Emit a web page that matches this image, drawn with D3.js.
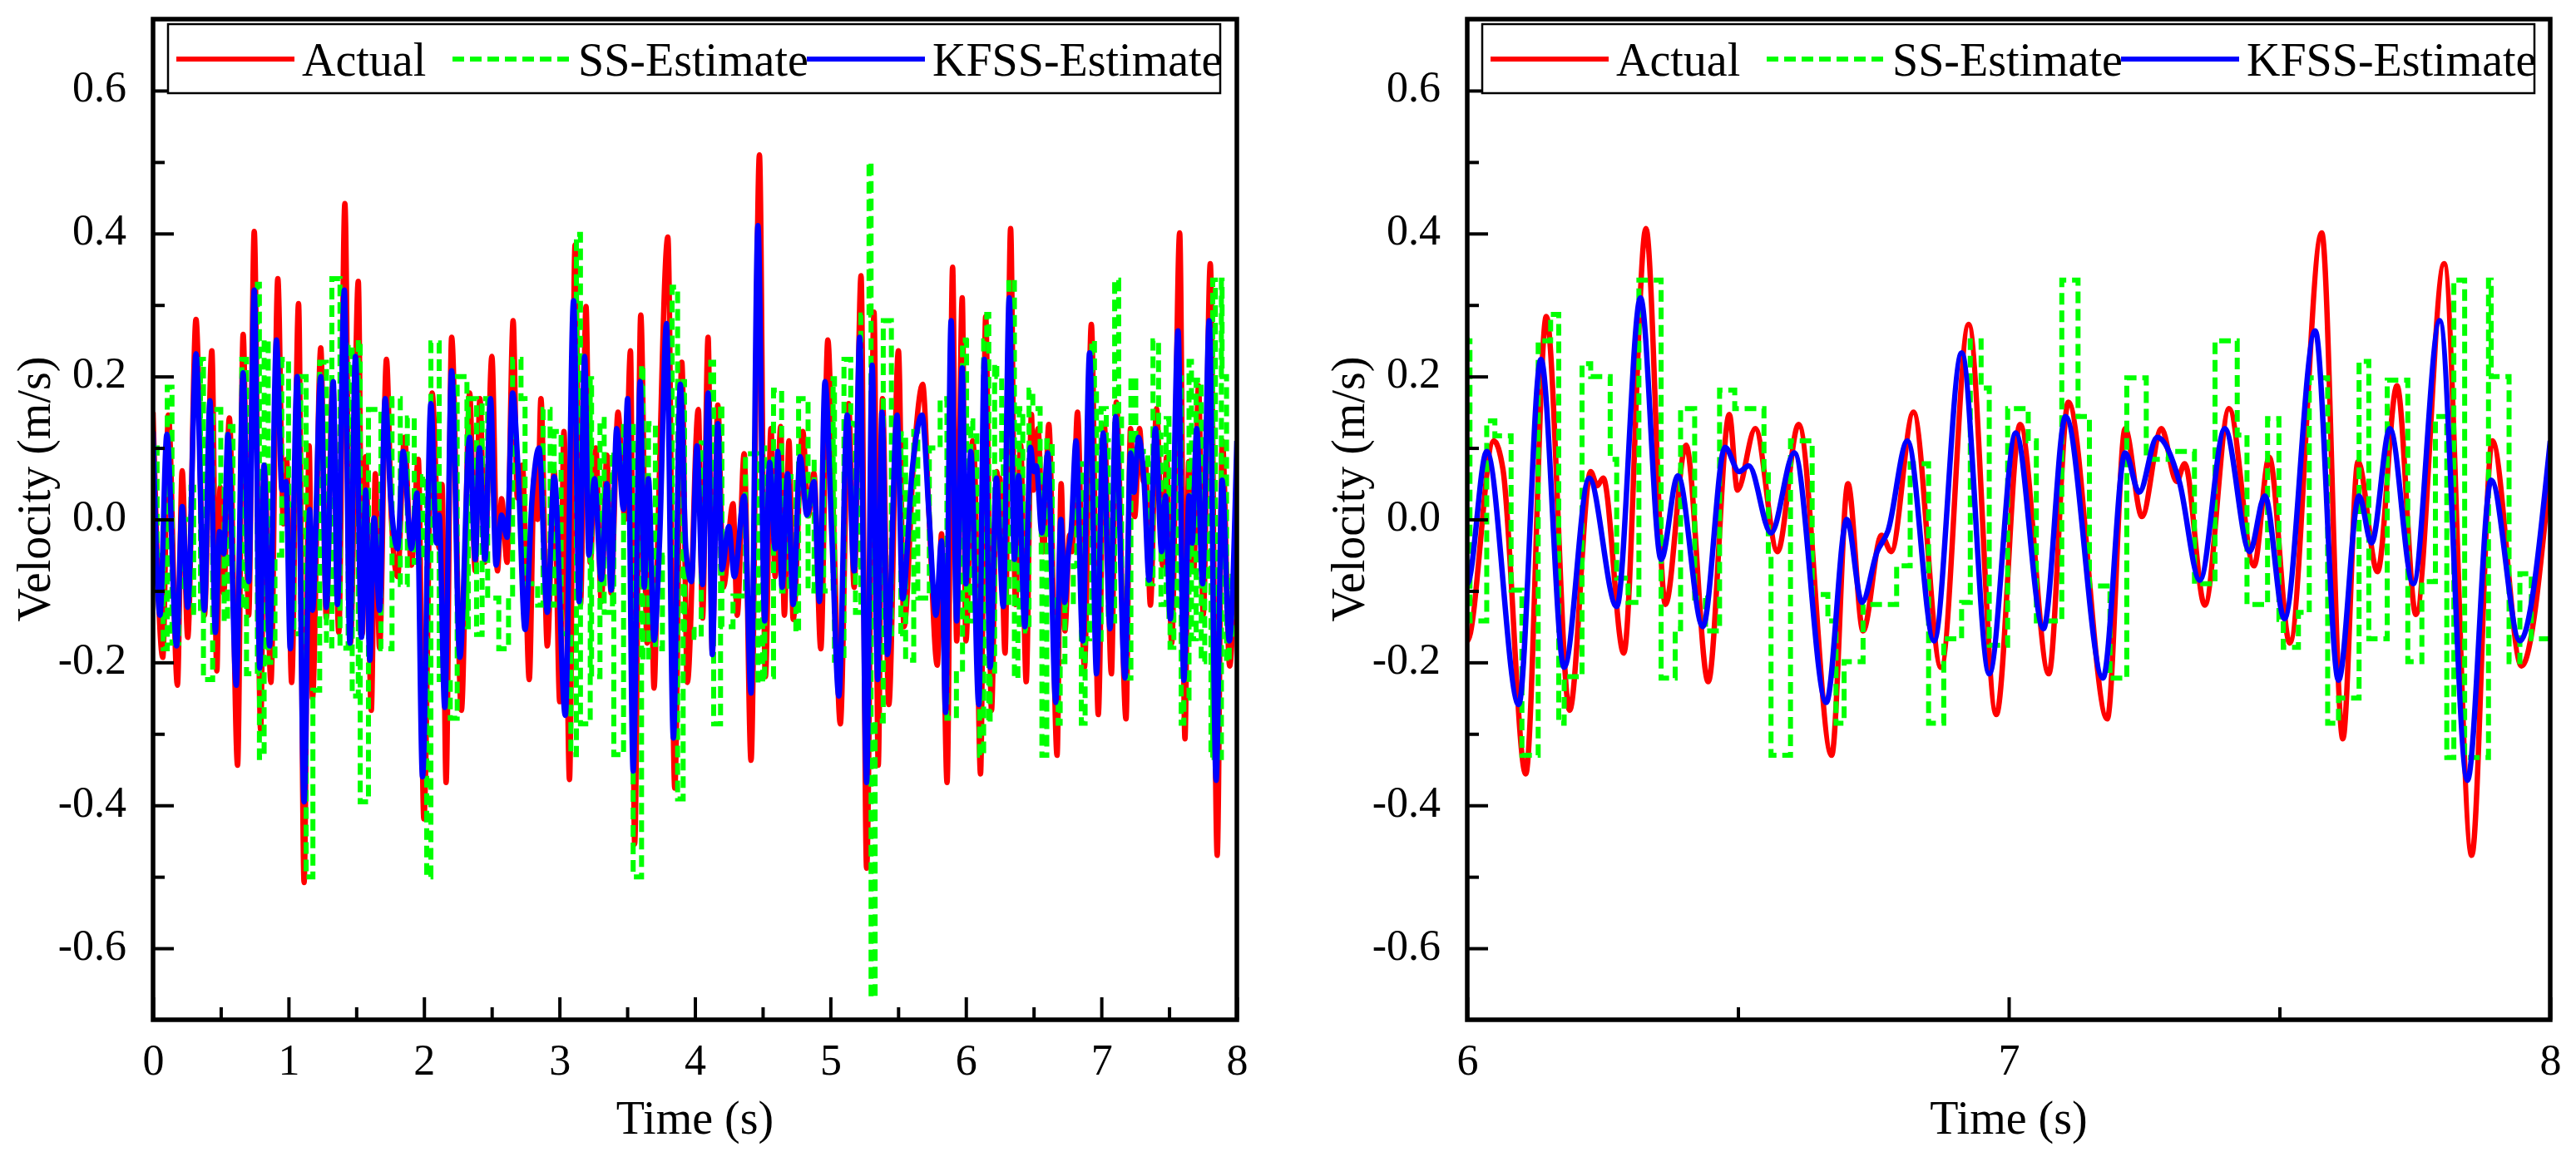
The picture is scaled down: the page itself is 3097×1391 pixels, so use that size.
<!DOCTYPE html>
<html><head><meta charset="utf-8">
<script src="https://cdn.jsdelivr.net/npm/d3@7"></script>
<style>body{margin:0;background:#fff}svg{display:block}</style>
</head><body>
<svg id="c" width="3097" height="1391"></svg>
<script>
// ---------- DATA ----------
const actualT = [0.000,0.072,0.113,0.180,0.215,0.256,0.317,0.379,0.434,0.471,0.495,0.522,0.563,0.624,0.665,0.706,0.747,0.794,0.823,0.870,0.921,0.962,0.986,1.023,1.074,1.115,1.152,1.177,1.238,1.279,1.326,1.371,1.416,1.457,1.515,1.545,1.570,1.611,1.641,1.672,1.723,1.760,1.805,1.856,1.907,1.958,1.999,2.060,2.112,2.133,2.163,2.204,2.276,2.337,2.378,2.413,2.450,2.501,2.542,2.573,2.613,2.658,2.689,2.726,2.777,2.814,2.839,2.863,2.910,2.961,3.002,3.033,3.074,3.115,3.155,3.196,3.227,3.268,3.309,3.350,3.381,3.432,3.483,3.524,3.555,3.600,3.647,3.673,3.698,3.729,3.800,3.851,3.903,3.944,4.025,4.056,4.097,4.128,4.169,4.210,4.281,4.312,4.363,4.414,4.476,4.520,4.561,4.592,4.633,4.660,4.694,4.725,4.796,4.837,4.878,4.929,4.981,5.022,5.073,5.134,5.175,5.226,5.267,5.322,5.353,5.384,5.431,5.502,5.543,5.615,5.681,5.728,5.789,5.820,5.861,5.902,5.932,5.973,6.000,6.049,6.066,6.108,6.146,6.189,6.228,6.240,6.251,6.289,6.330,6.366,6.404,6.445,6.484,6.499,6.532,6.573,6.612,6.673,6.703,6.731,6.765,6.783,6.824,6.875,6.926,6.977,7.021,7.074,7.110,7.182,7.215,7.246,7.282,7.310,7.325,7.362,7.407,7.453,7.481,7.519,7.578,7.617,7.645,7.681,7.717,7.752,7.804,7.855,7.893,7.947,8.000];
const actualV = [0.150,-0.193,0.146,-0.232,0.068,-0.165,0.280,-0.134,0.236,-0.212,0.045,-0.103,0.142,-0.344,0.259,-0.134,0.403,-0.294,0.076,-0.228,0.337,-0.006,0.084,-0.228,0.302,-0.508,0.103,-0.250,0.240,-0.138,0.193,-0.158,0.442,-0.173,0.333,-0.160,0.088,-0.267,0.064,-0.180,0.224,0.000,-0.080,0.115,-0.064,0.084,-0.419,0.177,-0.040,0.049,-0.368,0.255,-0.267,0.177,-0.072,0.169,-0.060,0.228,-0.072,0.029,-0.060,0.278,0.030,0.076,-0.224,0.060,0.000,0.169,-0.177,0.068,-0.255,0.123,-0.364,0.384,-0.119,0.298,-0.060,0.100,-0.115,0.090,-0.103,0.150,0.000,0.236,-0.454,0.286,-0.173,-0.050,-0.236,0.000,0.395,-0.376,0.220,-0.228,0.154,-0.138,0.255,-0.185,0.160,-0.095,0.022,-0.134,0.092,-0.337,0.510,-0.220,0.127,-0.080,0.130,-0.134,0.110,-0.140,0.123,0.005,0.065,-0.181,0.251,0.006,-0.286,0.162,-0.095,0.341,-0.488,0.290,-0.344,0.169,-0.259,0.236,-0.150,0.085,0.189,0.006,-0.204,-0.020,-0.368,0.353,-0.170,0.310,-0.170,0.110,0.070,-0.356,0.284,-0.267,0.067,0.047,0.058,-0.187,0.407,-0.119,0.104,-0.227,0.147,0.041,0.127,-0.045,0.133,-0.330,0.050,-0.156,-0.022,-0.045,0.150,-0.207,0.273,-0.273,0.133,-0.216,0.164,-0.279,0.127,0.004,0.127,0.053,0.078,-0.120,0.155,-0.065,0.087,-0.173,0.401,-0.307,0.081,-0.073,0.187,-0.133,0.358,-0.470,0.110,-0.205,0.070];

const kfssT = [0.000,0.051,0.102,0.174,0.215,0.256,0.317,0.379,0.420,0.460,0.491,0.522,0.553,0.614,0.665,0.706,0.747,0.788,0.819,0.860,0.911,0.952,0.982,1.013,1.064,1.115,1.156,1.177,1.238,1.279,1.330,1.361,1.412,1.453,1.494,1.539,1.570,1.600,1.631,1.672,1.713,1.754,1.805,1.846,1.907,1.948,1.989,2.051,2.092,2.112,2.153,2.204,2.265,2.337,2.378,2.409,2.450,2.491,2.532,2.573,2.613,2.654,2.695,2.746,2.798,2.849,2.910,2.961,3.043,3.104,3.145,3.186,3.217,3.258,3.309,3.350,3.381,3.422,3.473,3.503,3.544,3.596,3.626,3.657,3.698,3.739,3.790,3.841,3.892,3.933,3.974,4.015,4.056,4.097,4.128,4.169,4.199,4.250,4.291,4.363,4.414,4.465,4.515,4.551,4.592,4.612,4.643,4.684,4.725,4.776,4.827,4.878,4.919,4.960,5.011,5.062,5.124,5.175,5.216,5.267,5.308,5.349,5.380,5.421,5.492,5.533,5.605,5.676,5.728,5.779,5.820,5.850,5.891,5.932,5.973,6.000,6.036,6.095,6.136,6.179,6.225,6.276,6.320,6.358,6.389,6.435,6.476,6.502,6.520,6.561,6.604,6.663,6.701,6.729,6.757,6.777,6.813,6.862,6.913,6.964,7.013,7.064,7.105,7.174,7.215,7.241,7.274,7.315,7.353,7.399,7.445,7.473,7.509,7.566,7.609,7.647,7.670,7.704,7.747,7.796,7.847,7.891,7.944,8.000];
const kfssV = [0.123,-0.134,0.119,-0.177,0.018,-0.123,0.232,-0.127,0.166,-0.158,-0.017,-0.048,0.119,-0.232,0.205,-0.087,0.321,-0.208,0.076,-0.177,0.251,0.041,0.053,-0.181,0.200,-0.395,0.014,-0.127,0.200,-0.123,0.193,-0.119,0.321,-0.173,0.228,-0.165,0.041,-0.197,0.002,-0.127,0.169,0.030,-0.041,0.095,-0.041,0.037,-0.360,0.162,-0.033,0.006,-0.263,0.208,-0.193,0.115,-0.056,0.100,-0.056,0.169,-0.064,0.006,-0.025,0.177,0.068,-0.154,0.030,0.100,-0.130,0.060,-0.274,0.306,-0.115,0.228,-0.050,0.057,-0.084,0.050,-0.099,0.127,0.014,0.169,-0.352,0.193,-0.095,0.057,-0.169,-0.030,0.274,-0.306,0.189,-0.041,-0.087,0.103,-0.091,0.177,-0.189,0.134,-0.070,-0.010,-0.080,0.033,-0.243,0.411,-0.142,0.080,-0.041,0.095,-0.095,0.064,-0.119,0.088,0.006,0.053,-0.115,0.193,-0.025,-0.247,0.146,-0.072,0.255,-0.368,0.216,-0.224,0.150,-0.189,0.146,-0.111,0.072,0.146,0.006,-0.134,-0.030,-0.270,0.278,-0.142,0.212,-0.090,0.095,-0.259,0.224,-0.207,0.058,-0.122,0.310,-0.056,0.061,-0.150,0.101,0.067,0.075,-0.019,0.093,-0.256,0.000,-0.116,-0.045,-0.016,0.110,-0.170,0.233,-0.216,0.121,-0.153,0.144,-0.222,0.093,0.038,0.115,0.053,-0.085,0.127,-0.045,0.033,-0.139,0.264,-0.225,0.033,-0.033,0.127,-0.090,0.278,-0.365,0.055,-0.170,0.110];

// SS-Estimate is a held (stepped) signal: each value holds until the next time
const ssT = [0.000,0.030,0.075,0.105,0.140,0.190,0.230,0.280,0.300,0.350,0.372,0.440,0.500,0.525,0.550,0.590,0.655,0.690,0.770,0.785,0.820,0.850,0.900,0.950,1.000,1.040,1.090,1.130,1.180,1.230,1.280,1.320,1.380,1.440,1.470,1.515,1.529,1.590,1.682,1.764,1.825,1.877,1.928,1.989,2.020,2.051,2.112,2.194,2.245,2.317,2.327,2.388,2.429,2.470,2.552,2.624,2.654,2.716,2.746,2.839,2.879,2.931,2.961,3.012,3.084,3.125,3.155,3.227,3.237,3.299,3.330,3.391,3.401,3.473,3.544,3.606,3.616,3.657,3.708,3.760,3.831,3.872,3.913,3.923,3.994,4.046,4.117,4.138,4.189,4.199,4.281,4.373,4.465,4.500,4.515,4.580,4.640,4.695,4.745,4.765,4.835,4.880,4.950,5.020,5.030,5.100,5.150,5.185,5.225,5.285,5.300,5.330,5.390,5.450,5.520,5.555,5.615,5.645,5.730,5.810,5.860,5.930,5.975,6.000,6.005,6.036,6.051,6.081,6.101,6.131,6.154,6.169,6.179,6.212,6.228,6.264,6.276,6.297,6.317,6.358,6.384,6.394,6.420,6.440,6.466,6.494,6.548,6.556,6.561,6.597,6.637,6.666,6.681,6.696,6.731,6.793,6.818,6.852,6.880,6.913,6.929,6.949,6.964,6.998,7.036,7.051,7.098,7.128,7.149,7.187,7.218,7.254,7.295,7.343,7.381,7.422,7.440,7.478,7.499,7.507,7.535,7.555,7.589,7.609,7.647,7.665,7.699,7.737,7.763,7.788,7.809,7.822,7.842,7.886,7.891,7.924,7.944,7.965,8.000];
const ssV = [0.100,-0.050,-0.181,0.185,-0.173,-0.100,0.000,0.045,-0.130,0.224,-0.224,0.154,0.050,-0.142,0.130,-0.120,0.224,-0.216,0.329,-0.333,0.251,-0.200,-0.050,0.224,0.020,-0.160,0.200,-0.500,-0.239,0.220,-0.177,0.337,-0.180,0.244,-0.247,0.251,-0.395,0.154,-0.181,0.169,-0.091,0.142,-0.060,0.060,-0.500,0.247,-0.224,-0.278,0.200,-0.150,0.169,-0.161,0.169,-0.110,-0.181,-0.110,0.224,0.169,-0.090,-0.120,0.154,-0.120,0.123,-0.160,-0.329,0.399,-0.286,0.197,-0.220,0.140,-0.130,0.095,-0.329,0.130,-0.500,0.216,-0.196,0.134,-0.181,-0.050,0.325,-0.391,0.193,-0.154,-0.165,0.107,0.220,-0.286,0.161,-0.150,-0.107,0.092,-0.228,0.100,-0.220,0.181,-0.100,0.060,-0.158,0.169,-0.100,0.080,-0.100,0.197,-0.197,0.224,0.134,-0.130,0.286,0.500,-0.668,-0.282,0.278,-0.160,0.120,-0.197,0.123,-0.110,0.100,0.169,-0.278,-0.216,0.251,0.250,-0.142,0.138,0.117,-0.099,-0.330,0.250,0.287,-0.285,-0.220,0.218,0.200,0.084,-0.082,-0.116,0.335,-0.222,-0.153,0.155,-0.110,-0.156,0.181,0.155,0.070,-0.050,-0.330,0.110,-0.105,-0.142,-0.285,-0.199,-0.119,-0.065,0.078,-0.285,-0.167,-0.116,0.250,0.184,-0.176,0.155,0.110,-0.142,0.335,0.144,-0.093,-0.222,0.198,0.084,0.095,-0.090,0.250,0.118,-0.119,0.141,-0.140,-0.179,-0.130,0.198,-0.285,-0.250,0.221,-0.167,0.195,-0.199,-0.087,0.144,-0.333,0.335,-0.333,0.335,0.200,-0.199,-0.076,-0.167,-0.167];

const seriesNames = ["Actual", "SS-Estimate", "KFSS-Estimate"];
const seriesColors = ["#ff0000", "#00ff00", "#0000ff"];
const yDomain = [-0.7, 0.7];
const yMajorTicks = [-0.6, -0.4, -0.2, 0.0, 0.2, 0.4, 0.6];
const yMinorTicks = [-0.5, -0.3, -0.1, 0.1, 0.3, 0.5];
const leftXDomain = [0, 8];
const leftXMajor = [0, 1, 2, 3, 4, 5, 6, 7, 8];
const leftXMinor = [0.5, 1.5, 2.5, 3.5, 4.5, 5.5, 6.5, 7.5];
const rightXDomain = [6, 8];
const rightXMajor = [6, 7, 8];
const rightXMinor = [6.5, 7.5];
const xTitle = "Time (s)";
const yTitle = "Velocity (m/s)";

// ---------- DRAW ----------
const svg = d3.select("#c");
const FONT = "'Liberation Serif', 'Times New Roman', serif";
const plotTop = 23, plotBottom = 1226;

const actual = actualT.map((t, i) => ({t, v: actualV[i]}));
const kfss = kfssT.map((t, i) => ({t, v: kfssV[i]}));
const ss = ssT.map((t, i) => ({t, v: ssV[i]}));

const panels = [
  {id: "L", x0: 184, x1: 1487, dom: leftXDomain, major: leftXMajor, minor: leftXMinor},
  {id: "R", x0: 1764, x1: 3066, dom: rightXDomain, major: rightXMajor, minor: rightXMinor}
];

panels.forEach(p => {
  const x = d3.scaleLinear().domain(p.dom).range([p.x0, p.x1]);
  const y = d3.scaleLinear().domain(yDomain).range([plotBottom, plotTop]);
  const g = svg.append("g");

  g.append("clipPath").attr("id", "clip" + p.id)
    .append("rect").attr("x", p.x0).attr("y", plotTop).attr("width", p.x1 - p.x0).attr("height", plotBottom - plotTop);

  const inRange = d => d.t >= p.dom[0] - 0.1 && d.t <= p.dom[1] + 0.1;
  const smooth = d3.line().x(d => x(d.t)).y(d => y(d.v)).curve(d3.curveMonotoneX);
  const step = d3.line().x(d => x(d.t)).y(d => y(d.v)).curve(d3.curveStepAfter);

  const plot = g.append("g").attr("clip-path", `url(#clip${p.id})`);
  plot.append("path").datum(actual.filter(inRange)).attr("d", smooth)
    .attr("fill", "none").attr("stroke", seriesColors[0]).attr("stroke-width", 6.5)
    .attr("stroke-linejoin", "round");
  plot.append("path").datum(ss.filter(inRange)).attr("d", step)
    .attr("fill", "none").attr("stroke", seriesColors[1]).attr("stroke-width", 6)
    .attr("stroke-dasharray", "14,7");
  plot.append("path").datum(kfss.filter(inRange)).attr("d", smooth)
    .attr("fill", "none").attr("stroke", seriesColors[2]).attr("stroke-width", 6.5)
    .attr("stroke-linejoin", "round");

  const styleAxis = sel => {
    sel.select(".domain").remove();
    sel.selectAll(".tick line").attr("stroke", "#000").attr("stroke-width", 4);
    sel.selectAll(".tick text").attr("font-family", FONT).attr("font-size", 52).attr("fill", "#000");
  };
  g.append("g").attr("transform", `translate(0,${plotBottom})`)
    .call(d3.axisBottom(x).tickValues(p.major).tickSize(-27).tickPadding(29).tickFormat(d3.format("d")))
    .call(styleAxis);
  g.append("g").attr("transform", `translate(0,${plotBottom})`)
    .call(d3.axisBottom(x).tickValues(p.minor).tickSize(-15).tickFormat(""))
    .call(styleAxis);
  g.append("g").attr("transform", `translate(${p.x0},0)`)
    .call(d3.axisLeft(y).tickValues(yMajorTicks).tickSize(-25).tickPadding(32).tickFormat(d => d.toFixed(1)))
    .call(styleAxis)
    .call(s => s.selectAll(".tick text").attr("dy", "0.25em"));
  g.append("g").attr("transform", `translate(${p.x0},0)`)
    .call(d3.axisLeft(y).tickValues(yMinorTicks).tickSize(-14).tickFormat(""))
    .call(styleAxis);

  g.append("rect").attr("x", p.x0).attr("y", plotTop).attr("width", p.x1 - p.x0).attr("height", plotBottom - plotTop)
    .attr("fill", "none").attr("stroke", "#000").attr("stroke-width", 5.5);

  g.append("text").attr("x", (p.x0 + p.x1) / 2).attr("y", 1363).attr("text-anchor", "middle")
    .attr("font-family", FONT).attr("font-size", 56).text(xTitle);
  g.append("text").attr("transform", `translate(${p.x0 - 124},588) rotate(-90)`).attr("text-anchor", "middle")
    .attr("font-family", FONT).attr("font-size", 56).text(yTitle);

  const lx = p.x0 + 18, ly = 29, lw = 1265, lh = 83;
  const leg = g.append("g");
  leg.append("rect").attr("x", lx).attr("y", ly).attr("width", lw).attr("height", lh)
    .attr("fill", "#fff").attr("stroke", "#000").attr("stroke-width", 2.5);
  const offs = [8, 340, 766];
  seriesNames.forEach((name, i) => {
    const ix = lx + offs[i];
    const ln = leg.append("line").attr("x1", ix + 2).attr("x2", ix + 144).attr("y1", 71).attr("y2", 71)
      .attr("stroke", seriesColors[i]).attr("stroke-width", 6);
    if (i === 1) ln.attr("stroke-dasharray", "14,7");
    leg.append("text").attr("x", ix + 153).attr("y", 91).attr("font-family", FONT)
      .attr("font-size", 56).text(name);
  });
});
</script>
</body></html>
